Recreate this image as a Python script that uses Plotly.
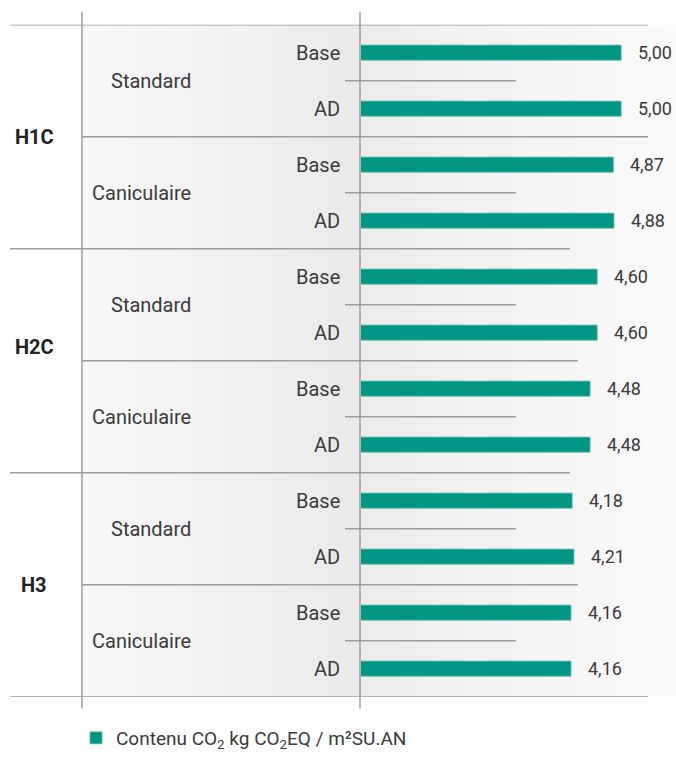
import plotly.graph_objects as go

# Climate zones, summer scenarios and building variants
zones = ["H1C", "H2C", "H3"]
scenarios = ["Standard", "Caniculaire"]
variants = ["Base", "AD"]

# CO2 content per row (zone > scenario > variant), kg CO2 eq / m² SU / year
values = [5.00, 5.00, 4.87, 4.88, 4.60, 4.60, 4.48, 4.48, 4.18, 4.21, 4.16, 4.16]

legend_label = "Contenu CO<sub>2</sub> kg CO<sub>2</sub>EQ / m²SU.AN"

rows = [(z, s, v) for z in zones for s in scenarios for v in variants]
categories = [f"{z} · {s} · {v}" for z, s, v in rows]
value_labels = [f"{x:.2f}".replace(".", ",") for x in values]

W, H = 676, 757
FONT = "Roboto, sans-serif"
TXT = "#3a3a3a"
TEAL = "#009684"
LINE = "#9c9c9c"

def px(x):
    return x / W

def py(y):
    return (H - y) / H

top_px, bot_px = 25, 706
axis_px = 361

fig = go.Figure()
fig.add_trace(go.Bar(
    x=values, y=categories, orientation="h",
    width=0.27,
    marker=dict(color=TEAL, line=dict(color="#5fbcb0", width=0.8)),
    name=legend_label, showlegend=True,
    hoverinfo="x+y",
))

shapes = []
# soft grey panel behind the table and bars
n = 60
x_start, x_mid, x_end = 82, 360, 676
def grey(t):
    v = int(round(t))
    return f"rgb({v},{v},{v})"
for i in range(n):
    a = x_start + (x_end - x_start) * i / n
    b = x_start + (x_end - x_start) * (i + 1) / n
    c = (a + b) / 2
    if c <= x_mid:
        t = 248 - (248 - 234) * (c - x_start) / (x_mid - x_start)
    else:
        t = 236 + (250 - 236) * (c - x_mid) / (x_end - x_mid)
    shapes.append(dict(type="rect", xref="paper", yref="y", x0=px(a), x1=px(b) + 0.001,
                       y0=-0.5, y1=11.5, fillcolor=grey(t), line=dict(width=0), layer="below"))

def hline(yv, xa, xb, color=LINE, w=1.5):
    shapes.append(dict(type="line", xref="paper", yref="y", x0=px(xa), x1=px(xb),
                       y0=yv, y1=yv, line=dict(color=color, width=w)))

# frame lines
hline(-0.5, 10, 648)
hline(11.5, 10, 648)
hline(3.5, 10, 570)
hline(7.5, 10, 570)
hline(1.5, 82, 648)
hline(5.5, 82, 578)
hline(9.5, 82, 578)
for k in range(0, 12, 2):
    hline(k + 0.5, 345, 516)

for xv in (82, 360):
    shapes.append(dict(type="line", xref="paper", yref="paper", x0=px(xv), x1=px(xv),
                       y0=py(718), y1=py(12), line=dict(color=LINE, width=1.5)))

annotations = []
# variant labels
for cat, (z, s, v) in zip(categories, rows):
    annotations.append(dict(x=px(342), y=cat, xref="paper", yref="y", text=v,
                            xanchor="right", yanchor="middle", showarrow=False,
                            font=dict(family=FONT, size=20, color=TXT)))
# value labels next to each bar
for cat, val, lab in zip(categories, values, value_labels):
    annotations.append(dict(x=val, y=cat, xref="x", yref="y", text=lab,
                            xanchor="left", yanchor="middle", showarrow=False, xshift=15,
                            font=dict(family=FONT, size=18, color=TXT)))
# scenario labels
for zi in range(len(zones)):
    for si, s in enumerate(scenarios):
        idx = zi * 4 + si * 2
        annotations.append(dict(x=px(193), y=idx + 0.5, xref="paper", yref="y", text=s,
                                xanchor="right", yanchor="middle", showarrow=False,
                                font=dict(family=FONT, size=20, color=TXT)))
# zone labels
zone_y = [1.5, 5.25, 9.5]
for z, yv in zip(zones, zone_y):
    annotations.append(dict(x=px(34), y=yv, xref="paper", yref="y", text=f"<b>{z}</b>",
                            xanchor="center", yanchor="middle", showarrow=False,
                            font=dict(family=FONT, size=20, color="#222222")))

# linear scale: 59.7 px per unit, origin shown at the axis line
x0 = 0.643
x1 = x0 + (W - axis_px) / 59.7

fig.update_layout(
    width=W, height=H,
    margin=dict(l=0, r=0, t=0, b=0),
    paper_bgcolor="white",
    plot_bgcolor="rgba(0,0,0,0)",
    xaxis=dict(domain=[px(axis_px), 1], range=[x0, x1], visible=False, fixedrange=True),
    yaxis=dict(domain=[py(bot_px), py(top_px)], range=[11.5, -0.5], type="category",
               categoryorder="array", categoryarray=categories,
               visible=False, fixedrange=True),
    shapes=shapes,
    annotations=annotations,
    showlegend=True,
    legend=dict(x=px(76), y=py(729), xanchor="left", yanchor="top",
                font=dict(family=FONT, size=19, color=TXT),
                bgcolor="rgba(0,0,0,0)", itemclick=False),
    font=dict(family=FONT, color=TXT),
)

fig.write_html("out.html")
